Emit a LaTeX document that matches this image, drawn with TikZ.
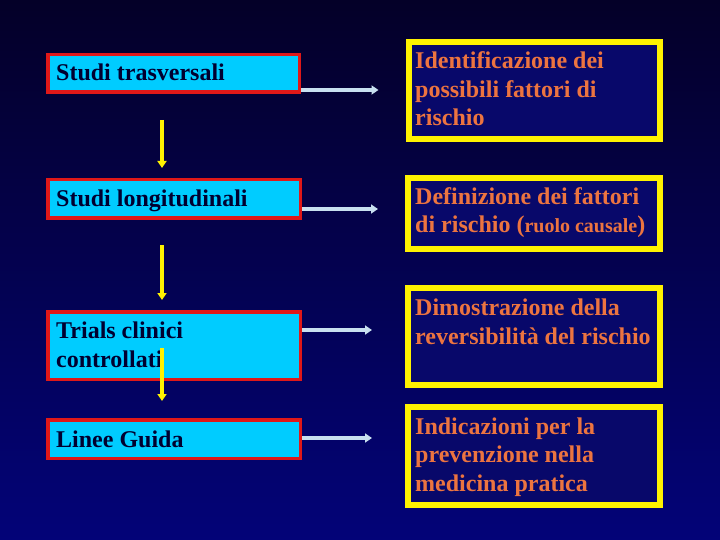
\documentclass[tikz,border=0pt]{standalone}
\usepackage{fontspec}
\setmainfont{Liberation Serif}
\usetikzlibrary{arrows.meta}
\definecolor{bgtop}{HTML}{040028}
\definecolor{bgbot}{HTML}{030378}
\definecolor{cyanfill}{HTML}{00CCFF}
\definecolor{rededge}{HTML}{E01818}
\definecolor{navyfill}{HTML}{08086A}
\definecolor{orangetxt}{HTML}{EC7440}
\definecolor{darktxt}{HTML}{000030}
\definecolor{harrowc}{HTML}{C8E0F0}
\tikzset{
  leftbox/.style={draw=rededge, fill=cyanfill, line width=3.5pt, rectangle, inner sep=0pt},
  rightbox/.style={draw=yellow, fill=navyfill, line width=6pt, rectangle, inner sep=0pt},
  lefttxt/.style={anchor=base west, inner sep=0pt, text=darktxt, font=\fontsize{24}{28.5}\selectfont\bfseries, align=left},
  righttxt/.style={anchor=base west, inner sep=0pt, text=orangetxt, font=\fontsize{24}{28.5}\selectfont\bfseries, align=left},
  harrow/.style={draw=harrowc, line width=4pt, -{Triangle[length=7pt,width=9pt]}},
  varrow/.style={draw=yellow, line width=4pt, -{Triangle[length=7pt,width=9pt]}}
}
\begin{document}
\begin{tikzpicture}[x=1pt,y=-1pt]
\shade[top color=bgtop, bottom color=bgbot] (0,0) rectangle (720,540);
\useasboundingbox (0,0) rectangle (720,540);
% left boxes
\node[leftbox, minimum width=251.5pt, minimum height=37.5pt] (L1) at (173.75,73.5) {};
\node[leftbox, minimum width=252.5pt, minimum height=38.5pt] (L2) at (174,199) {};
\node[leftbox, minimum width=252.5pt, minimum height=67.5pt] (L3) at (174,345.5) {};
\node[leftbox, minimum width=252.5pt, minimum height=38.5pt] (L4) at (174,439) {};
% right boxes
\node[rightbox, minimum width=251pt, minimum height=97pt] (R1) at (534,90.5) {};
\node[rightbox, minimum width=252pt, minimum height=70pt] (R2) at (534,213.5) {};
\node[rightbox, minimum width=252pt, minimum height=97pt] (R3) at (534,336.5) {};
\node[rightbox, minimum width=252pt, minimum height=98pt] (R4) at (534,456) {};
% texts (base anchor = baseline of last line)
\node[lefttxt] (tl1) at (56,81) {Studi trasversali};
\node[lefttxt] (tl2) at (56,207) {Studi longitudinali};
\node[lefttxt] (tl3) at (56,367) {Trials clinici\\controllati};
\node[lefttxt] (tl4) at (56,447) {Linee Guida};
\node[righttxt] (tr1) at (415,126) {Identificazione dei\\possibili fattori di\\rischio};
\node[righttxt] (tr2) at (415,233) {Definizione dei fattori\\di rischio ({\fontsize{20}{24}\selectfont ruolo causale})};
\node[righttxt] (tr3) at (415,344) {Dimostrazione della\\reversibilità del rischio};
\node[righttxt] (tr4) at (415,491) {Indicazioni per la\\prevenzione nella\\medicina pratica};
% horizontal arrows
\draw[harrow] (L1.east |- 0,90) -- ([xshift=-27pt]R1.west |- 0,90);
\draw[harrow] (L2.east |- 0,209) -- ([xshift=-27pt]R2.west |- 0,209);
\draw[harrow] (L3.east |- 0,330) -- ([xshift=-33pt]R3.west |- 0,330);
\draw[harrow] (L4.east |- 0,438) -- ([xshift=-33pt]R4.west |- 0,438);
% vertical arrows
\coordinate (v1s) at (162,120);
\coordinate (v2s) at (162,245);
\coordinate (v3s) at (162,348);
\draw[varrow] (v1s) -- ([yshift=10pt]L2.north -| v1s);
\draw[varrow] (v2s) -- ([yshift=10pt]L3.north -| v2s);
\draw[varrow] (v3s) -- ([yshift=17pt]L4.north -| v3s);
\end{tikzpicture}
\end{document}
